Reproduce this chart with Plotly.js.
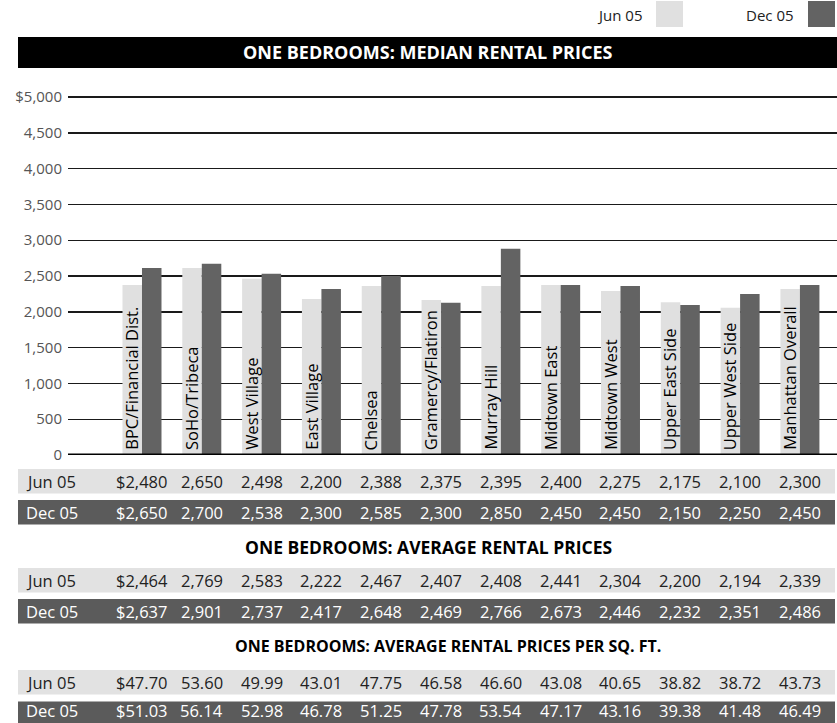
<!DOCTYPE html>
<html>
<head>
<meta charset="utf-8">
<script src="https://cdn.plot.ly/plotly-3.0.1.min.js"></script>
<style>html,body{margin:0;padding:0;background:#fff;}#chart{width:837px;height:723px;}</style>
</head>
<body>
<div id="chart"></div>
<script>
// ---- data ----
const neighborhoods = ["BPC/Financial Dist.","SoHo/Tribeca","West Village","East Village","Chelsea","Gramercy/Flatiron","Murray Hill","Midtown East","Midtown West","Upper East Side","Upper West Side","Manhattan Overall"];
const seriesNames = ["Jun 05","Dec 05"];
// bar heights as drawn in the chart
const barJun = [2375,2610,2460,2180,2360,2165,2360,2375,2290,2135,2055,2320];
const barDec = [2610,2670,2530,2320,2500,2125,2880,2375,2360,2095,2250,2375];
// table values
const medianJun = [2480,2650,2498,2200,2388,2375,2395,2400,2275,2175,2100,2300];
const medianDec = [2650,2700,2538,2300,2585,2300,2850,2450,2450,2150,2250,2450];
const averageJun = [2464,2769,2583,2222,2467,2407,2408,2441,2304,2200,2194,2339];
const averageDec = [2637,2901,2737,2417,2648,2469,2766,2673,2446,2232,2351,2486];
const psfJun = [47.70,53.60,49.99,43.01,47.75,46.58,46.60,43.08,40.65,38.82,38.72,43.73];
const psfDec = [51.03,56.14,52.98,46.78,51.25,47.78,53.54,47.17,43.16,39.38,41.48,46.49];
const yTickVals = [0,500,1000,1500,2000,2500,3000,3500,4000,4500,5000];
const yTickText = ["0","500","1,000","1,500","2,000","2,500","3,000","3,500","4,000","4,500","$5,000"];
const mainTitle = "ONE BEDROOMS: MEDIAN RENTAL PRICES";
const avgTitle = "ONE BEDROOMS: AVERAGE RENTAL PRICES";
const psfTitle = "ONE BEDROOMS: AVERAGE RENTAL PRICES PER SQ. FT.";

// ---- style ----
const W = 837, H = 723;
const FONT = "Open Sans, Noto Sans, sans-serif";
const LIGHT = "#e0e0e0", DARK = "#636363", ROWLIGHT = "#e2e2e2", ROWDARK = "#5b5b5b";
const px = x => x / W;
const py = y => 1 - y / H;
const idx = neighborhoods.map((_, i) => i);

const traces = [
  {type: "bar", name: seriesNames[0], x: idx, y: barJun, marker: {color: LIGHT}, hoverinfo: "skip"},
  {type: "bar", name: seriesNames[1], x: idx, y: barDec, marker: {color: DARK}, hoverinfo: "skip"}
];

const shapes = [];
const annotations = [];

// legend
[[seriesNames[0], LIGHT, 644, 656], [seriesNames[1], DARK, 796, 808]].forEach(([t, c, tx, sx]) => {
  annotations.push({xref: "paper", yref: "paper", x: px(tx), y: py(15), xanchor: "right", yanchor: "middle",
    text: t, showarrow: false, font: {family: FONT, size: 15, color: "#222"}});
  shapes.push({type: "rect", xref: "paper", yref: "paper", x0: px(sx), x1: px(sx + 27), y0: py(1), y1: py(27),
    fillcolor: c, line: {width: 0}});
});

// banner
shapes.push({type: "rect", xref: "paper", yref: "paper", x0: px(18), x1: px(837), y0: py(37), y1: py(68),
  fillcolor: "#000", line: {width: 0}});
annotations.push({xref: "paper", yref: "paper", x: px(427), y: py(52.5), xanchor: "center", yanchor: "middle",
  text: "<b>" + mainTitle + "</b>", showarrow: false, font: {family: FONT, size: 18, color: "#fff"}});

// zero line on top
shapes.push({type: "line", xref: "paper", yref: "y", x0: px(68), x1: px(837), y0: 0, y1: 0,
  line: {color: "#000", width: 3}, layer: "above"});

// rotated category labels inside Jun bars
neighborhoods.forEach((n, i) => {
  annotations.push({xref: "x", yref: "y", x: i - 0.163, y: 0, xanchor: "center", yanchor: "bottom",
    xshift: -1, yshift: 3, textangle: -90, text: n, showarrow: false,
    font: {family: FONT, size: 16.5, color: "#000"}});
});

// tables
const fmtMoney = (v, i) => (i === 0 ? "$" : "") + v.toLocaleString("en-US");
const fmtPsf = (v, i) => (i === 0 ? "$" : "") + v.toFixed(2);
const rows = [
  {label: seriesNames[0], vals: medianJun, fmt: fmtMoney, top: 469, h: 24.5, dark: false},
  {label: seriesNames[1], vals: medianDec, fmt: fmtMoney, top: 500, h: 24.5, dark: true},
  {label: seriesNames[0], vals: averageJun, fmt: fmtMoney, top: 568, h: 24.5, dark: false},
  {label: seriesNames[1], vals: averageDec, fmt: fmtMoney, top: 599, h: 24.5, dark: true},
  {label: seriesNames[0], vals: psfJun, fmt: fmtPsf, top: 670, h: 24.5, dark: false},
  {label: seriesNames[1], vals: psfDec, fmt: fmtPsf, top: 701.5, h: 21.5, dark: true}
];
rows.forEach(r => {
  const col = r.dark ? "#fff" : "#222";
  shapes.push({type: "rect", xref: "paper", yref: "paper", x0: px(18), x1: px(835), y0: py(r.top), y1: py(r.top + r.h),
    fillcolor: r.dark ? ROWDARK : ROWLIGHT, line: {width: 0}, layer: "below"});
  const cy = py(Math.min(r.top + 12.25, 710.5));
  annotations.push({xref: "paper", yref: "paper", x: px(24), y: cy, xanchor: "left", yanchor: "middle",
    text: r.label, showarrow: false, font: {family: FONT, size: 16.5, color: col}});
  r.vals.forEach((v, i) => {
    annotations.push({xref: "x", yref: "paper", x: i, y: cy, xanchor: "center", yanchor: "middle",
      text: r.fmt(v, i), showarrow: false, font: {family: FONT, size: 16.5, color: col}});
  });
});
annotations.push({xref: "paper", yref: "paper", x: px(428), y: py(547), xanchor: "center", yanchor: "middle",
  text: "<b>" + avgTitle + "</b>", showarrow: false, font: {family: FONT, size: 17.5, color: "#000"}});
annotations.push({xref: "paper", yref: "paper", x: px(448), y: py(646), xanchor: "center", yanchor: "middle",
  text: "<b>" + psfTitle + "</b>", showarrow: false, font: {family: FONT, size: 16, color: "#000"}});

const yTop = 5060;
const yTopPx = 455 - (455 - 97) * yTop / 5000;
const layout = {
  width: W, height: H,
  margin: {l: 0, r: 0, t: 0, b: 0, pad: 0},
  paper_bgcolor: "#fff", plot_bgcolor: "rgba(0,0,0,0)",
  showlegend: false,
  hovermode: false,
  barmode: "group", bargap: 0.348, bargroupgap: 0,
  font: {family: FONT},
  xaxis: {domain: [68 / W, 1], range: [-1.237, 11.62], showticklabels: false, showgrid: false,
    zeroline: false, showline: false, ticks: "", fixedrange: true},
  yaxis: {domain: [(H - 455) / H, (H - yTopPx) / H], range: [0, yTop], tickmode: "array",
    tickvals: yTickVals, ticktext: yTickText, showgrid: true, gridcolor: "#1a1a1a", gridwidth: 1.4,
    zeroline: false, showline: false, ticks: "", ticklabelstandoff: 5,
    tickfont: {family: FONT, size: 15, color: "#555"}, fixedrange: true},
  shapes: shapes,
  annotations: annotations
};

Plotly.newPlot("chart", traces, layout, {displayModeBar: false, staticPlot: true});
</script>
</body>
</html>
